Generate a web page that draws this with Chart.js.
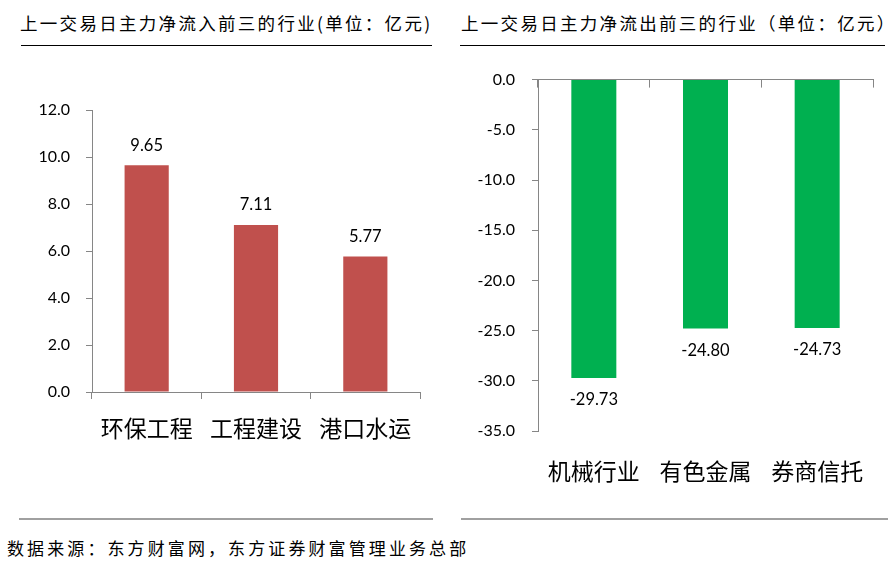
<!DOCTYPE html>
<html>
<head>
<meta charset="utf-8">
<script src="https://cdn.jsdelivr.net/npm/chart.js@4.4.1/dist/chart.umd.min.js"></script>
<style>
  html,body{margin:0;padding:0;background:#fff;}
  body{width:894px;height:575px;position:relative;overflow:hidden;font-family:"Noto Sans CJK SC",sans-serif;}
  .title{position:absolute;top:11px;font-size:17.5px;color:#000;white-space:nowrap;letter-spacing:2.3px;line-height:24px;}
  .hline{position:absolute;height:1px;background:#000;}
  .bline{position:absolute;height:2px;background:#a0a0a0;}
  .foot{position:absolute;left:7px;top:536px;font-size:17px;letter-spacing:3.1px;color:#000;white-space:nowrap;line-height:24px;}
  canvas{position:absolute;}
</style>
</head>
<body>
<div class="title" style="left:20px;">上一交易日主力净流入前三的行业(单位：亿元)</div>
<div class="hline" style="left:21px;top:45px;width:411px;"></div>
<div class="title" style="left:461px;">上一交易日主力净流出前三的行业（单位：亿元）</div>
<div class="hline" style="left:460px;top:45px;width:425px;"></div>
<div class="bline" style="left:19px;top:518px;width:414px;"></div>
<div class="bline" style="left:461px;top:518px;width:427px;"></div>
<div class="foot">数据来源：东方财富网，东方证券财富管理业务总部</div>

<canvas id="c1" width="440" height="420" style="left:0;top:60px;width:440px;height:420px;"></canvas>
<canvas id="c2" width="447" height="440" style="left:447px;top:53px;width:447px;height:440px;"></canvas>

<script>
// ---- data ----
const inflowCategories = ['环保工程', '工程建设', '港口水运'];
const inflowValues = [9.65, 7.11, 5.77];
const inflowTicks = [0, 2, 4, 6, 8, 10, 12];

const outflowCategories = ['机械行业', '有色金属', '券商信托'];
const outflowValues = [-29.73, -24.80, -24.73];
const outflowTicks = [0, -5, -10, -15, -20, -25, -30, -35];

// ---- styles ----
const AXIS = '#868686';
const NUMFONT = 'Lato, "Noto Sans CJK SC", sans-serif';
const CJKFONT = '"Noto Sans CJK SC", sans-serif';

const valueLabels = {
  id: 'valueLabels',
  afterDatasetsDraw(chart) {
    const ctx = chart.ctx;
    const meta = chart.getDatasetMeta(0);
    const data = chart.data.datasets[0].data;
    ctx.save();
    ctx.font = '16.5px ' + NUMFONT;
    ctx.fillStyle = '#000';
    ctx.textAlign = 'center';
    ctx.textBaseline = 'middle';
    meta.data.forEach((bar, i) => {
      const v = data[i];
      const y = v >= 0 ? bar.y - 20 : bar.y + 22;
      ctx.fillText(v.toFixed(2), bar.x, y);
    });
    ctx.restore();
  }
};

new Chart(document.getElementById('c1'), {
  type: 'bar',
  data: {
    labels: inflowCategories,
    datasets: [{
      data: inflowValues,
      backgroundColor: '#C0504D',
      borderWidth: 0,
      categoryPercentage: 1,
      barPercentage: 0.404
    }]
  },
  plugins: [valueLabels],
  options: {
    responsive: false,
    animation: false,
    devicePixelRatio: 1,
    layout: { padding: { top: 50, right: 20, bottom: 18, left: 0 } },
    plugins: { legend: { display: false }, tooltip: { enabled: false } },
    scales: {
      x: {
        offset: true,
        grid: { offset: true, drawOnChartArea: false, drawTicks: true, tickLength: 7, color: AXIS },
        border: { color: AXIS },
        ticks: { color: '#000', font: { family: CJKFONT, size: 23 }, padding: 15, maxRotation: 0 },
        afterFit: s => { s.height = 70; }
      },
      y: {
        min: 0, max: 12,
        afterBuildTicks: s => { s.ticks = inflowTicks.map(v => ({ value: v })); },
        grid: { drawOnChartArea: false, drawTicks: true, tickLength: 6, color: AXIS },
        border: { color: AXIS },
        ticks: { color: '#000', font: { family: NUMFONT, size: 16 }, padding: 16, callback: v => Number(v).toFixed(1) },
        afterFit: s => { s.width = 92; }
      }
    }
  }
});

new Chart(document.getElementById('c2'), {
  type: 'bar',
  data: {
    labels: outflowCategories,
    datasets: [{
      data: outflowValues,
      backgroundColor: '#00B050',
      borderWidth: 0,
      categoryPercentage: 1,
      barPercentage: 0.403
    }]
  },
  plugins: [valueLabels],
  options: {
    responsive: false,
    animation: false,
    devicePixelRatio: 1,
    layout: { padding: { top: 13, right: 21, bottom: 2, left: 0 } },
    plugins: { legend: { display: false }, tooltip: { enabled: false } },
    scales: {
      x: {
        position: 'bottom',
        offset: true,
        grid: { display: false, drawTicks: false },
        border: { display: false },
        ticks: { color: '#000', font: { family: CJKFONT, size: 23 }, padding: 26, maxRotation: 0 },
        afterFit: s => { s.height = 60; }
      },
      x2: {
        type: 'category',
        position: 'top',
        labels: outflowCategories,
        offset: true,
        grid: { offset: true, drawOnChartArea: false, drawTicks: true, tickLength: -8, color: AXIS },
        border: { color: AXIS },
        ticks: { display: false },
        afterFit: s => { s.height = 0; }
      },
      y: {
        min: -35, max: 0,
        afterBuildTicks: s => { s.ticks = outflowTicks.map(v => ({ value: v })); },
        grid: { drawOnChartArea: false, drawTicks: true, tickLength: 6, color: AXIS },
        border: { color: AXIS },
        ticks: { color: '#000', font: { family: NUMFONT, size: 16 }, padding: 17, callback: v => Number(v).toFixed(1) },
        afterFit: s => { s.width = 91; }
      }
    }
  }
});
</script>
</body>
</html>
